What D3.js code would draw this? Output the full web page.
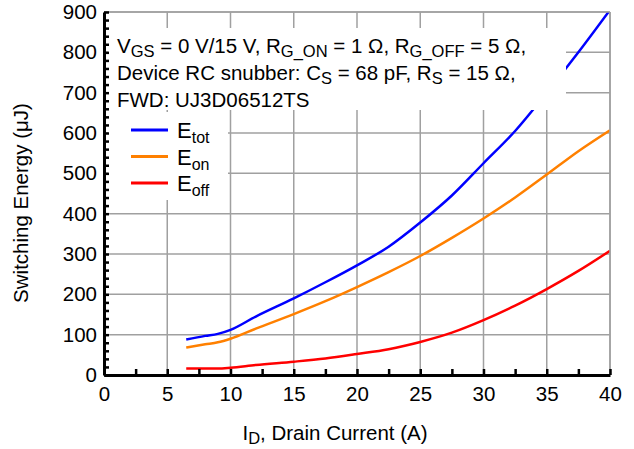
<!DOCTYPE html>
<html><head><meta charset="utf-8">
<script src="https://cdn.jsdelivr.net/npm/d3@7"></script>
<style>body{margin:0;background:#fff}svg{display:block;font-family:"Liberation Sans",Arial,sans-serif}</style>
</head><body>
<svg id="c" width="634" height="449"></svg>
<script>
const current = [6.5, 8, 9, 10, 12, 15, 17.5, 20, 22.5, 25, 27.5, 30, 32.5, 35, 37.5, 40];
const eTot = [88, 97, 102, 112, 145, 190, 230, 272, 318, 378, 445, 525, 605, 700, 800, 905];
const eOn = [68, 76, 81, 90, 115, 151, 183, 218, 255, 295, 340, 388, 440, 497, 555, 607];
const eOff = [16, 16, 16, 18, 25, 33, 41, 52, 64, 82, 105, 136, 172, 213, 258, 308];
const xTicks = [0, 5, 10, 15, 20, 25, 30, 35, 40];
const yTicks = [0, 100, 200, 300, 400, 500, 600, 700, 800, 900];
const seriesNames = ["tot", "on", "off"];
const seriesColors = ["#0000ff", "#ff8000", "#ff0000"];

const FS = 20.5, SFS = 16.5;
const svg = d3.select("#c");
const L = 104, R = 610, T = 12, B = 375;
const x = d3.scaleLinear().domain([0, 40]).range([L, R]);
const y = d3.scaleLinear().domain([0, 900]).range([B, T]);

// grid
const g = svg.append("g");
g.selectAll(".vg").data(xTicks.slice(1)).enter().append("line")
  .attr("x1", d => x(d)).attr("x2", d => x(d)).attr("y1", T).attr("y2", B)
  .attr("stroke", "#a0a0a0").attr("stroke-width", 1.5);
g.selectAll(".hg").data(yTicks.slice(1)).enter().append("line")
  .attr("x1", L).attr("x2", R).attr("y1", d => y(d)).attr("y2", d => y(d))
  .attr("stroke", "#a0a0a0").attr("stroke-width", 1.5);

svg.append("clipPath").attr("id", "clip").append("rect")
  .attr("x", L).attr("y", T).attr("width", R - L).attr("height", B - T);

const line = d3.line().curve(d3.curveMonotoneX).x((d, i) => x(current[i])).y(d => y(d));
const data = [eTot, eOn, eOff];
svg.append("g").attr("clip-path", "url(#clip)").selectAll("path").data(data).enter().append("path")
  .attr("d", d => line(d)).attr("fill", "none")
  .attr("stroke", (d, i) => seriesColors[i]).attr("stroke-width", 2.5);

// annotation box
svg.append("rect").attr("x", 108).attr("y", 28).attr("width", 458).attr("height", 82).attr("fill", "#fff");
const ann = svg.append("g").attr("font-size", FS).attr("fill", "#000");
function sub(parts, xx, yy) {
  const te = ann.append("text").attr("x", xx).attr("y", yy);
  parts.forEach(p => {
    if (p[1]) te.append("tspan").attr("dy", 4).attr("font-size", SFS).text(p[0]);
    else te.append("tspan").attr("dy", p[2] ? -4 : 0).text(p[0]);
  });
  return te;
}
sub([["V"], ["GS", 1], [" = 0 V/15 V, R", 0, 1], ["G_ON", 1], [" = 1 Ω, R", 0, 1], ["G_OFF", 1], [" = 5 Ω,", 0, 1]], 117, 53);
sub([["Device RC snubber: C"], ["S", 1], [" = 68 pF, R", 0, 1], ["S", 1], [" = 15 Ω,", 0, 1]], 117, 80);
sub([["FWD: UJ3D06512TS"]], 117, 107);

// legend
svg.append("rect").attr("x", 108).attr("y", 112).attr("width", 120).attr("height", 88).attr("fill", "#fff");
const lg = svg.append("g");
seriesNames.forEach((n, i) => {
  const ly = 130 + i * 26.5;
  lg.append("line").attr("x1", 131).attr("x2", 168).attr("y1", ly).attr("y2", ly)
    .attr("stroke", seriesColors[i]).attr("stroke-width", 3);
  const t = lg.append("text").attr("x", 177).attr("y", ly + 8).attr("font-size", 22);
  t.append("tspan").text("E");
  t.append("tspan").attr("dy", 5).attr("font-size", 16).text(n);
});

// frame top/right
svg.append("line").attr("x1", L).attr("x2", R).attr("y1", T).attr("y2", T).attr("stroke", "#a0a0a0").attr("stroke-width", 1.5);
svg.append("line").attr("x1", R).attr("x2", R).attr("y1", T).attr("y2", B).attr("stroke", "#a0a0a0").attr("stroke-width", 1.5);

// axes
const xAxis = d3.axisBottom(x).tickValues(xTicks).tickSize(0).tickPadding(11);
const xa = svg.append("g").attr("transform", `translate(0,${B})`).call(xAxis);
xa.select(".domain").attr("stroke", "#000").attr("stroke-width", 3);
xa.selectAll("text").attr("font-size", FS).attr("font-family", "Liberation Sans, Arial, sans-serif").attr("fill", "#000");
const xMinor = d3.axisTop(x).tickValues(d3.range(0, 40.01, 2.5)).tickSize(6).tickFormat("");
const xm = svg.append("g").attr("transform", `translate(0,${B})`).call(xMinor);
xm.select(".domain").remove();
xm.selectAll("line").attr("stroke", "#000").attr("stroke-width", 2.5);

const yAxis = d3.axisLeft(y).tickValues(yTicks).tickSize(0).tickPadding(7);
const ya = svg.append("g").attr("transform", `translate(${L},0)`).call(yAxis);
ya.select(".domain").attr("stroke", "#000").attr("stroke-width", 3);
ya.selectAll("text").attr("font-size", FS).attr("font-family", "Liberation Sans, Arial, sans-serif").attr("fill", "#000");
const yMinor = d3.axisRight(y).tickValues(d3.range(0, 900.01, 20)).tickSize(5).tickFormat("");
const ym = svg.append("g").attr("transform", `translate(${L},0)`).call(yMinor);
ym.select(".domain").remove();
ym.selectAll("line").attr("stroke", "#000").attr("stroke-width", 2.5);

// titles
const xt = svg.append("text").attr("x", 335).attr("y", 440).attr("text-anchor", "middle").attr("font-size", FS);
xt.append("tspan").text("I");
xt.append("tspan").attr("dy", 4).attr("font-size", SFS).text("D");
xt.append("tspan").attr("dy", -4).text(", Drain Current (A)");
svg.append("text").attr("transform", "translate(28,203) rotate(-90)").attr("text-anchor", "middle")
  .attr("font-size", FS).text("Switching Energy (μJ)");
</script>
</body></html>
